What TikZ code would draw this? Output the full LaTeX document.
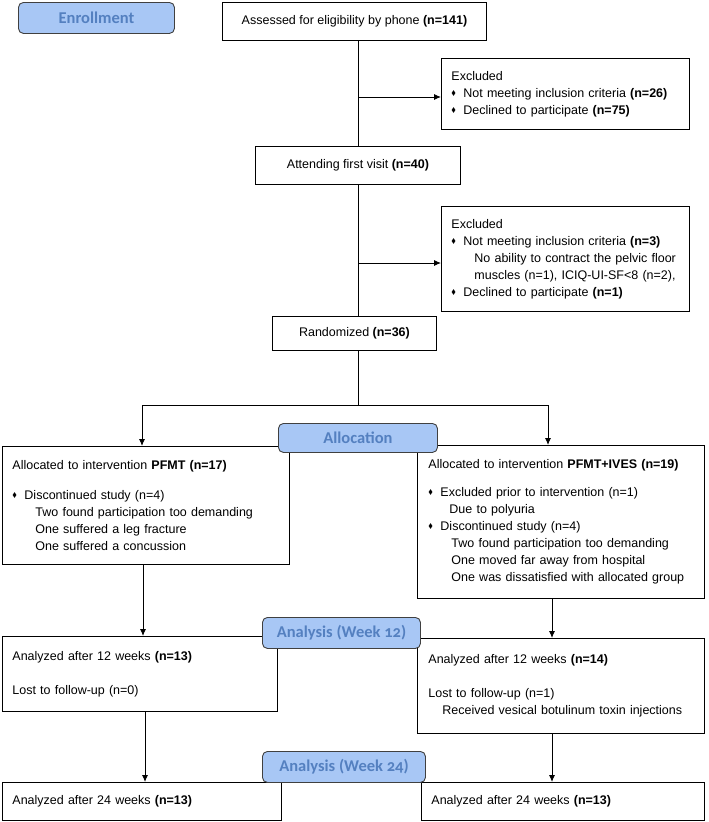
\documentclass[tikz,border=0pt]{standalone}
\usepackage{fontspec}
\usepackage{amssymb}
\setmainfont{Liberation Sans}
\newfontfamily\labfont[Numbers=OldStyle]{Carlito}
\usetikzlibrary{arrows.meta}
\definecolor{labfill}{RGB}{168,199,245}
\definecolor{labtext}{RGB}{84,128,192}
\newcommand{\bul}{\makebox[12pt][l]{\raisebox{0.3ex}{\scalebox{0.55}{$\blacklozenge$}}}}
\newcommand{\subi}{\hspace*{23pt}}
\begin{document}
\begin{tikzpicture}[x=1pt,y=-1pt,
  box/.style={draw, line width=0.9pt, anchor=north west, inner ysep=3pt, font=\fontsize{12.5}{17}\selectfont},
  cbox/.style={box, align=center},
  lbox/.style={box, align=left, inner xsep=10pt},
  lab/.style={draw=black!75, line width=0.9pt, fill=labfill, rounded corners=5pt, anchor=north west,
    text=labtext, font=\labfont\bfseries\fontsize{16.5}{17}\selectfont, align=center},
  ln/.style={line width=0.9pt},
  arr/.style={ln, -{Latex[length=7pt,width=6pt]}}]
\useasboundingbox[fill=white] (0,0) rectangle (709,822);

% boxes
\node[cbox, minimum width=264pt, minimum height=38pt] (assess) at (222,2) {Assessed for eligibility by phone \textbf{(n=141)}};
\node[lbox, text width=228pt, minimum height=71pt] (excl1) at (441,58) {Excluded\\
\bul Not meeting inclusion criteria \textbf{(n=26)}\\
\bul Declined to participate \textbf{(n=75)}};
\node[cbox, minimum width=205pt, minimum height=38pt] (attend) at (255,146) {Attending first visit \textbf{(n=40)}};
\node[lbox, text width=228pt, minimum height=105pt] (excl2) at (441,206) {Excluded\\
\bul Not meeting inclusion criteria \textbf{(n=3)}\\
\subi\mbox{No ability to contract the pelvic floor}\\
\subi\mbox{muscles (n=1), ICIQ-UI-SF<8 (n=2),}\\
\bul Declined to participate \textbf{(n=1)}};
\node[cbox, minimum width=164pt, minimum height=34pt] (rand) at (272,316) {Randomized \textbf{(n=36)}};

\node[lbox, text width=267pt, minimum height=118pt] (allocL) at (2,446) {Allocated to intervention \textbf{PFMT (n=17)}\\[13pt]
\bul Discontinued study (n=4)\\
\subi Two found participation too demanding\\
\subi One suffered a leg fracture\\
\subi One suffered a concussion};
\node[lbox, text width=265pt, inner xsep=11pt, minimum height=153pt] (allocR) at (417,445) {Allocated to intervention \textbf{PFMT+IVES (n=19)}\\[11pt]
\bul Excluded prior to intervention (n=1)\\
\hspace*{21pt}Due to polyuria\\
\bul Discontinued study (n=4)\\
\subi Two found participation too demanding\\
\subi One moved far away from hospital\\
\subi One was dissatisfied with allocated group};

\node[lbox, text width=255pt, minimum height=75pt] (anL) at (2,636) {Analyzed after 12 weeks \textbf{(n=13)}\\[17pt]
Lost to follow-up (n=0)};
\node[lbox, text width=265pt, inner xsep=11pt, minimum height=95pt] (anR) at (417,638) {Analyzed after 12 weeks \textbf{(n=14)}\\[17pt]
Lost to follow-up (n=1)\\
\hspace*{14pt}Received vesical botulinum toxin injections};

\node[lbox, text width=259pt, minimum height=38pt] (fL) at (2,782) {Analyzed after 24 weeks \textbf{(n=13)}};
\node[lbox, text width=263pt, minimum height=38pt] (fR) at (421,782) {Analyzed after 24 weeks \textbf{(n=13)}};

% labels
\node[lab, minimum width=156pt, minimum height=31pt] (lenr) at (18,2) {Enrollment};
\node[lab, minimum width=159pt, minimum height=29pt] (lall) at (278,423) {Allocation};
\node[lab, minimum width=158pt, minimum height=31pt] (la12) at (262,617) {Analysis (Week 12)};
\node[lab, minimum width=163pt, minimum height=31pt] (la24) at (262,751) {Analysis (Week 24)};

% connectors
\coordinate (mx) at (358,0);
\coordinate (b1) at (358,97);
\coordinate (b2) at (358,263);
\coordinate (sp) at (358,405);
\coordinate (sL) at (142,405);
\coordinate (sR) at (548,405);
\coordinate (cL) at (143,0);
\coordinate (cL2) at (145,0);
\coordinate (cR) at (552,0);
\draw[ln] (assess.south -| mx) -- (attend.north -| mx);
\draw[arr] (b1) -- (b1 -| excl1.west);
\draw[ln] (attend.south -| mx) -- (rand.north -| mx);
\draw[arr] (b2) -- (b2 -| excl2.west);
\draw[ln] (rand.south -| mx) -- (sp);
\draw[arr] (sp) -- (sL) -- (sL |- allocL.north);
\draw[arr] (sp) -- (sR) -- (sR |- allocR.north);
\draw[arr] (allocL.south -| cL) -- (anL.north -| cL);
\draw[arr] (allocR.south -| cR) -- (anR.north -| cR);
\draw[arr] (anL.south -| cL2) -- (fL.north -| cL2);
\draw[arr] (anR.south -| cR) -- (fR.north -| cR);
\end{tikzpicture}
\end{document}
